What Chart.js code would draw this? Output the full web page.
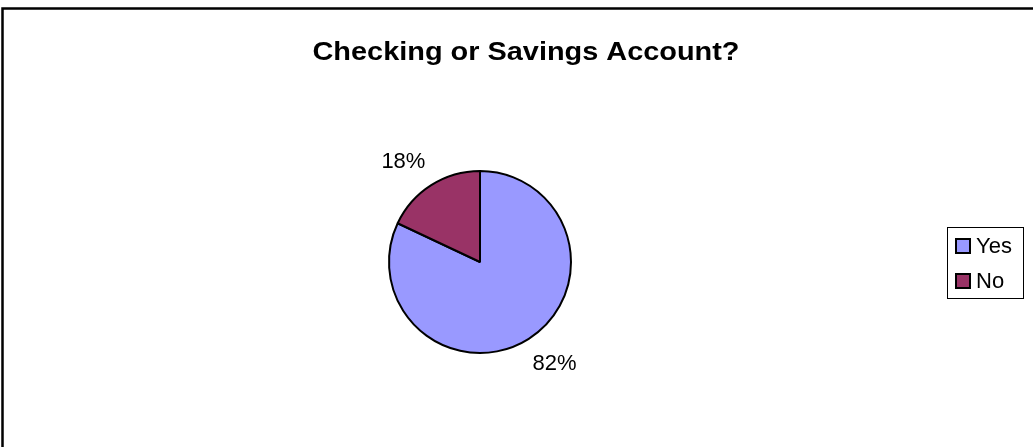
<!DOCTYPE html>
<html>
<head>
<meta charset="utf-8">
<script src="https://cdn.jsdelivr.net/npm/chart.js@4"></script>
<style>
    html, body { margin: 0; padding: 0; background: #fff; }
    #wrap { width: 1033px; height: 447px; position: relative; }
</style>
</head>
<body>
<div id="wrap"><canvas id="pie"></canvas></div>
<script>
const categories = ['Yes', 'No'];
const values = [82, 18];
const percentLabels = ['82%', '18%'];
const sliceColors = ['#9999FF', '#993366'];
const chartTitle = 'Checking or Savings Account?';

const FONT = '"Liberation Sans", Arial, sans-serif';

// frame, title, outside labels and the boxed legend
const excelLook = {
    id: 'excelLook',
    afterDraw(chart) {
        const ctx = chart.ctx;
        ctx.save();

        // chart frame (only top and left edges are visible)
        ctx.strokeStyle = '#000';
        ctx.lineWidth = 2.5;
        ctx.beginPath();
        ctx.moveTo(2.5, 447);
        ctx.lineTo(2.5, 8.5);
        ctx.lineTo(1033, 8.5);
        ctx.stroke();

        // title, a bit stretched sideways like the original
        ctx.fillStyle = '#000';
        ctx.font = 'bold 25px ' + FONT;
        ctx.textAlign = 'center';
        ctx.textBaseline = 'alphabetic';
        const tw = ctx.measureText(chartTitle).width;
        ctx.save();
        ctx.translate(526, 60);
        ctx.scale(427 / tw, 1);
        ctx.fillText(chartTitle, 0, 0);
        ctx.restore();

        // percent labels just outside each slice
        const meta = chart.getDatasetMeta(0);
        ctx.font = '22px ' + FONT;
        ctx.textBaseline = 'middle';
        ctx.textAlign = 'center';
        meta.data.forEach((arc, i) => {
            const mid = (arc.startAngle + arc.endAngle) / 2;
            const r = arc.outerRadius + 9;
            const ax = arc.x + Math.cos(mid) * r;
            const ay = arc.y + Math.sin(mid) * r;
            const w = ctx.measureText(percentLabels[i]).width;
            const sx = Math.cos(mid) >= 0 ? 1 : -1;
            const sy = Math.sin(mid) >= 0 ? 1 : -1;
            ctx.fillText(percentLabels[i], ax + sx * w / 2 - 1, ay + sy * 17 + 1);
        });

        // legend box
        const lx = 947, ly = 227, lw = 76, lh = 71;
        ctx.lineWidth = 1;
        ctx.strokeStyle = '#000';
        ctx.strokeRect(lx + 0.5, ly + 0.5, lw, lh);
        ctx.font = '22px ' + FONT;
        ctx.textAlign = 'left';
        ctx.textBaseline = 'middle';
        categories.forEach((name, i) => {
            const cy = 246 + i * 35;
            ctx.fillStyle = sliceColors[i];
            ctx.fillRect(956, cy - 7, 14, 14);
            ctx.lineWidth = 2;
            ctx.strokeRect(956, cy - 7, 14, 14);
            ctx.fillStyle = '#000';
            ctx.fillText(name, 976, cy + 1);
        });

        ctx.restore();
    }
};

new Chart(document.getElementById('pie').getContext('2d'), {
    type: 'pie',
    data: {
        labels: categories,
        datasets: [
            {
                data: values,
                backgroundColor: sliceColors,
                borderColor: '#000',
                borderWidth: 2
            }
        ]
    },
    options: {
        responsive: true,
        maintainAspectRatio: false,
        animation: false,
        layout: {
            padding: { left: 388, right: 461, top: 170, bottom: 93 }
        },
        plugins: {
            legend: { display: false },
            title: { display: false },
            tooltip: { enabled: false }
        }
    },
    plugins: [excelLook]
});
</script>
</body>
</html>
